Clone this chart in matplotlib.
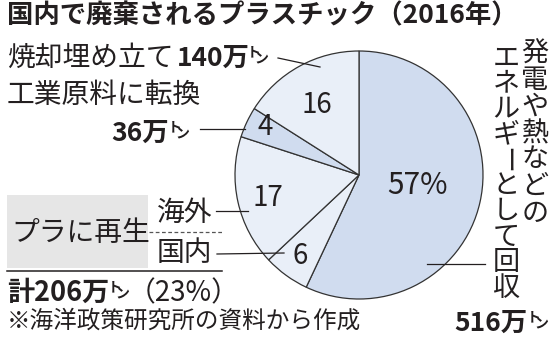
import matplotlib
matplotlib.use("Agg")
import matplotlib.pyplot as plt
from matplotlib.patches import Rectangle

plt.rcParams['font.family'] = ['Noto Sans CJK JP', 'DejaVu Sans']

# data (share of discarded plastic, %), clockwise from 12 o'clock
shares = [57, 6, 17, 4, 16]
share_labels = ['57%', '6', '17', '4', '16']
slice_colors = ['#d0dcef', '#e9eff8', '#e9eff8', '#d0dcef', '#e9eff8']

W, H = 560, 339
CX, CY, R = 359, 175, 124


def Y(y):
    # image coords (top-left origin) -> axes coords
    return H - y


fig = plt.figure(figsize=(W / 100, H / 100), dpi=100)
ax = fig.add_axes([0, 0, 1, 1])

ax.pie(shares, colors=slice_colors, startangle=90, counterclock=False,
       center=(CX, Y(CY)), radius=R,
       wedgeprops=dict(edgecolor='#333333', linewidth=0.9))
ax.set_xlim(0, W)
ax.set_ylim(0, H)
ax.set_aspect('equal')
ax.axis('off')

ink = '#231f20'
body = 20

# number labels inside the pie
label_pos = [(417, 185), (300, 256), (268, 198), (265, 127), (317, 105)]
for txt, (x, y) in zip(share_labels, label_pos):
    ax.text(x, Y(y), txt, fontsize=21.5 if '%' in txt else 20,
            ha='center', va='center', color=ink)

# title
ax.text(7, Y(16), '国内で廃棄されるプラスチック（2016年）', fontsize=19,
        fontweight='bold', ha='left', va='center', color=ink)


def ton(x, y):
    # small staggered "トン" after 万
    ax.text(x, Y(y - 6), 'ト', fontsize=10, ha='left', va='center',
            color=ink, fontweight='bold')
    ax.text(x + 7, Y(y + 1), 'ン', fontsize=10, ha='left', va='center',
            color=ink, fontweight='bold')


# incineration / landfill
ax.text(7, Y(58), '焼却埋め立て', fontsize=body, ha='left', va='center', color=ink)
ax.text(177, Y(58), '140万', fontsize=19, fontweight='bold', ha='left',
        va='center', color=ink)
ton(247, 58)
ax.plot([278, 320], [Y(58), Y(67)], color=ink, lw=0.9)

# industrial feedstock
ax.text(7, Y(95), '工業原料に転換', fontsize=body, ha='left', va='center', color=ink)
ax.text(111, Y(133), '36万', fontsize=19, fontweight='bold', ha='left',
        va='center', color=ink)
ton(168, 133)
ax.plot([200, 245], [Y(129), Y(129)], color=ink, lw=0.9)

# recycled
ax.add_patch(Rectangle((7, Y(268)), 141, 73, facecolor='#e6e6e6',
                       edgecolor='none', zorder=0))
ax.text(11, Y(233), 'プラに再生', fontsize=body, ha='left', va='center', color=ink)
ax.plot([149, 222], [Y(232), Y(232)], color='#555555', lw=0.9, ls=(0, (3, 2)))
ax.text(157, Y(213), '海外', fontsize=body, ha='left', va='center', color=ink)
ax.text(157, Y(253), '国内', fontsize=body, ha='left', va='center', color=ink)
ax.plot([216, 248], [Y(211), Y(211)], color=ink, lw=0.9)
ax.plot([217, 284], [Y(254), Y(253)], color=ink, lw=0.9)
ax.plot([7, 222], [Y(271), Y(271)], color=ink, lw=1.1)

ax.text(7, Y(293), '計206万', fontsize=19.5, fontweight='bold', ha='left',
        va='center', color=ink)
ton(108, 293)
ax.text(128, Y(293), '（23%）', fontsize=body, ha='left', va='center', color=ink)

ax.text(7, Y(321), '※海洋政策研究所の資料から作成', fontsize=17,
        ha='left', va='center', color=ink)

# energy recovery, vertical text
col_right = '発電や熱などの'
col_left = 'エネルギーとして回収'
for i, ch in enumerate(col_right):
    ax.text(535, Y(54 + i * 26.5), ch, fontsize=19.5, ha='center',
            va='center', color=ink)
for i, ch in enumerate(col_left):
    ax.text(506, Y(58 + i * 25.6), ch, fontsize=19.5, ha='center',
            va='center', color=ink, rotation=-90 if ch == 'ー' else 0)
ax.plot([427, 485], [Y(264), Y(264)], color=ink, lw=0.9)
ax.text(454, Y(323), '516万', fontsize=19, fontweight='bold', ha='left',
        va='center', color=ink)
ton(527, 323)

fig.savefig('out.png', dpi=100)
